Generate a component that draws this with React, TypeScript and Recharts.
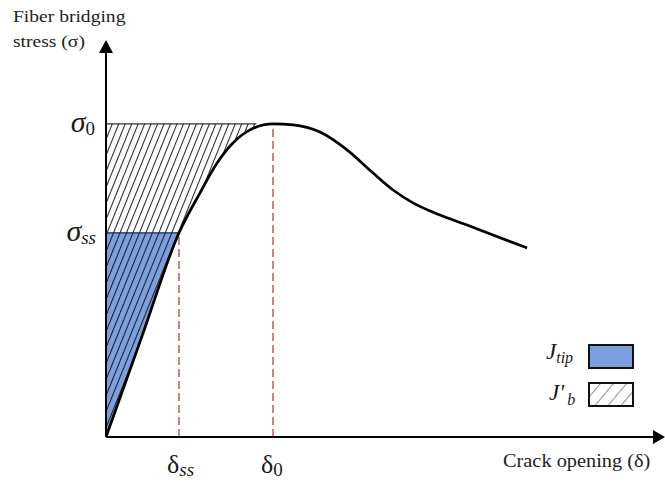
import React from "react"
import { ComposedChart, XAxis, YAxis, Line, Area, ReferenceLine, ReferenceDot } from "recharts"

// crack opening (in units of δ0) and fiber bridging stress (in units of σ0)
const openings = [0, 0.218, 0.437, 0.563, 0.665, 0.76, 0.862, 1.0, 1.12, 1.281, 1.443, 1.599, 1.719, 1.838, 2.0, 2.162, 2.317, 2.521]
const stresses = [0, 0.326, 0.652, 0.78, 0.875, 0.939, 0.981, 1.0, 0.997, 0.974, 0.917, 0.843, 0.789, 0.748, 0.709, 0.677, 0.645, 0.604]

const sigma0 = 1.0
const sigmaSS = 0.652
const delta0 = 1.0
const deltaSS = 0.437
const xMax = 3.335
const yMax = 1.268

const stressTicks = [sigmaSS, sigma0]
const openingTicks = [deltaSS, delta0]

const curve = openings.map((x, i) => ({ x, y: stresses[i] }))
const hatched = curve.filter((d) => d.x <= delta0).map((d) => ({ x: d.x, range: [d.y, sigma0] }))
const tipArea = curve.filter((d) => d.x <= deltaSS).map((d) => ({ x: d.x, range: [d.y, sigmaSS] }))

const serif = "'Liberation Serif', 'Times New Roman', serif"
const blue = "#7c9fe0"
const dashRed = "#b8504c"

const SigmaTick = ({ y, payload }: any) => {
  const isZero = payload.value === sigma0
  return (
    <text x={isZero ? 95 : 96} y={y + 8} textAnchor="end" fontFamily={serif} fill="#1a1a1a">
      <tspan fontStyle="italic" fontSize={30}>σ</tspan>
      <tspan fontSize={19} dy={3} fontStyle={isZero ? "normal" : "italic"}>{isZero ? "0" : "ss"}</tspan>
    </text>
  )
}

const DeltaTick = ({ x, payload }: any) => {
  const isZero = payload.value === delta0
  return (
    <text x={x - 12} y={473} textAnchor="start" fontFamily={serif} fill="#1a1a1a">
      <tspan fontSize={26}>δ</tspan>
      <tspan fontSize={19} dy={3} fontStyle={isZero ? "normal" : "italic"}>{isZero ? "0" : "ss"}</tspan>
    </text>
  )
}

const arrowRight = ({ cx, cy }: any) => <polygon points={`${cx + 2},${cy} ${cx - 10},${cy - 7} ${cx - 10},${cy + 7}`} fill="#000" />
const arrowUp = ({ cx, cy }: any) => <polygon points={`${cx},${cy} ${cx - 7},${cy + 13} ${cx + 7},${cy + 13}`} fill="#000" />

export default function App() {
  return (
    <div style={{ position: "absolute", left: 0, top: 0, width: 665, height: 482, background: "#fff", fontFamily: serif }}>
      <ComposedChart width={665} height={482} margin={{ top: 40, right: 2, bottom: 0, left: 0 }}>
        <defs>
          <pattern id="hatch" width="6" height="6" patternUnits="userSpaceOnUse" patternTransform="rotate(22)">
            <line x1="0.5" y1="0" x2="0.5" y2="6" stroke="#111" strokeWidth="1.1" />
          </pattern>
        </defs>
        <XAxis
          type="number"
          dataKey="x"
          domain={[0, xMax]}
          ticks={openingTicks}
          tick={<DeltaTick />}
          axisLine={false}
          tickLine={false}
          height={45}
          allowDataOverflow
        />
        <YAxis
          type="number"
          domain={[0, yMax]}
          ticks={stressTicks}
          tick={<SigmaTick />}
          axisLine={false}
          tickLine={false}
          width={106}
          allowDataOverflow
        />
        <Area data={tipArea} dataKey="range" type="linear" fill={blue} fillOpacity={1} stroke="none" isAnimationActive={false} />
        <Area data={hatched} dataKey="range" type="monotone" fill="url(#hatch)" fillOpacity={0.9} stroke="none" isAnimationActive={false} />
        <ReferenceLine segment={[{ x: 0, y: sigma0 }, { x: delta0 * 0.9, y: sigma0 }]} stroke="#000" strokeWidth={1} />
        <ReferenceLine segment={[{ x: 0, y: sigmaSS }, { x: deltaSS, y: sigmaSS }]} stroke="#1c2a4a" strokeWidth={1.3} />
        <ReferenceLine segment={[{ x: deltaSS, y: 0 }, { x: deltaSS, y: sigmaSS }]} stroke={dashRed} strokeWidth={1.4} strokeDasharray="8 4" />
        <ReferenceLine segment={[{ x: delta0, y: 0 }, { x: delta0, y: sigma0 }]} stroke={dashRed} strokeWidth={1.4} strokeDasharray="8 4" />
        <Line data={curve} dataKey="y" type="monotone" stroke="#000" strokeWidth={2.7} dot={false} isAnimationActive={false} />
        <ReferenceLine segment={[{ x: 0, y: 0 }, { x: xMax - 0.06, y: 0 }]} stroke="#000" strokeWidth={2} />
        <ReferenceLine segment={[{ x: 0, y: 0 }, { x: 0, y: yMax - 0.035 }]} stroke="#000" strokeWidth={2} />
        <ReferenceDot x={xMax} y={0} shape={arrowRight} ifOverflow="visible" />
        <ReferenceDot x={0} y={yMax} shape={arrowUp} ifOverflow="visible" />
      </ComposedChart>

      <div style={{ position: "absolute", left: 13, top: 4, fontSize: 17, color: "#222", lineHeight: "25px", transform: "scaleX(1.15)", transformOrigin: "left" }}>
        Fiber bridging<br />stress (σ)
      </div>
      <div style={{ position: "absolute", left: 503, top: 451, fontSize: 18, color: "#222", transform: "scaleX(1.13)", transformOrigin: "left", whiteSpace: "nowrap" }}>
        Crack opening (δ)
      </div>

      <div style={{ position: "absolute", left: 546, top: 339, fontSize: 23, fontStyle: "italic", color: "#1a1a1a" }}>
        J<span style={{ fontSize: 16, position: "relative", top: 4 }}>tip</span>
      </div>
      <div style={{ position: "absolute", left: 588, top: 344, width: 42, height: 21, background: blue, border: "2px solid #111" }} />
      <div style={{ position: "absolute", left: 549, top: 380, fontSize: 23, fontStyle: "italic", color: "#1a1a1a" }}>
        J'<span style={{ fontSize: 16, position: "relative", top: 5, marginLeft: 3 }}>b</span>
      </div>
      <svg style={{ position: "absolute", left: 588, top: 382 }} width={46} height={25}>
        <defs>
          <pattern id="boxHatch" width="10" height="10" patternUnits="userSpaceOnUse" patternTransform="rotate(40)">
            <line x1="0" y1="0" x2="0" y2="10" stroke="#222" strokeWidth="1" />
          </pattern>
        </defs>
        <rect x={1} y={1} width={44} height={23} fill="url(#boxHatch)" stroke="#111" strokeWidth={2} />
      </svg>
    </div>
  )
}
